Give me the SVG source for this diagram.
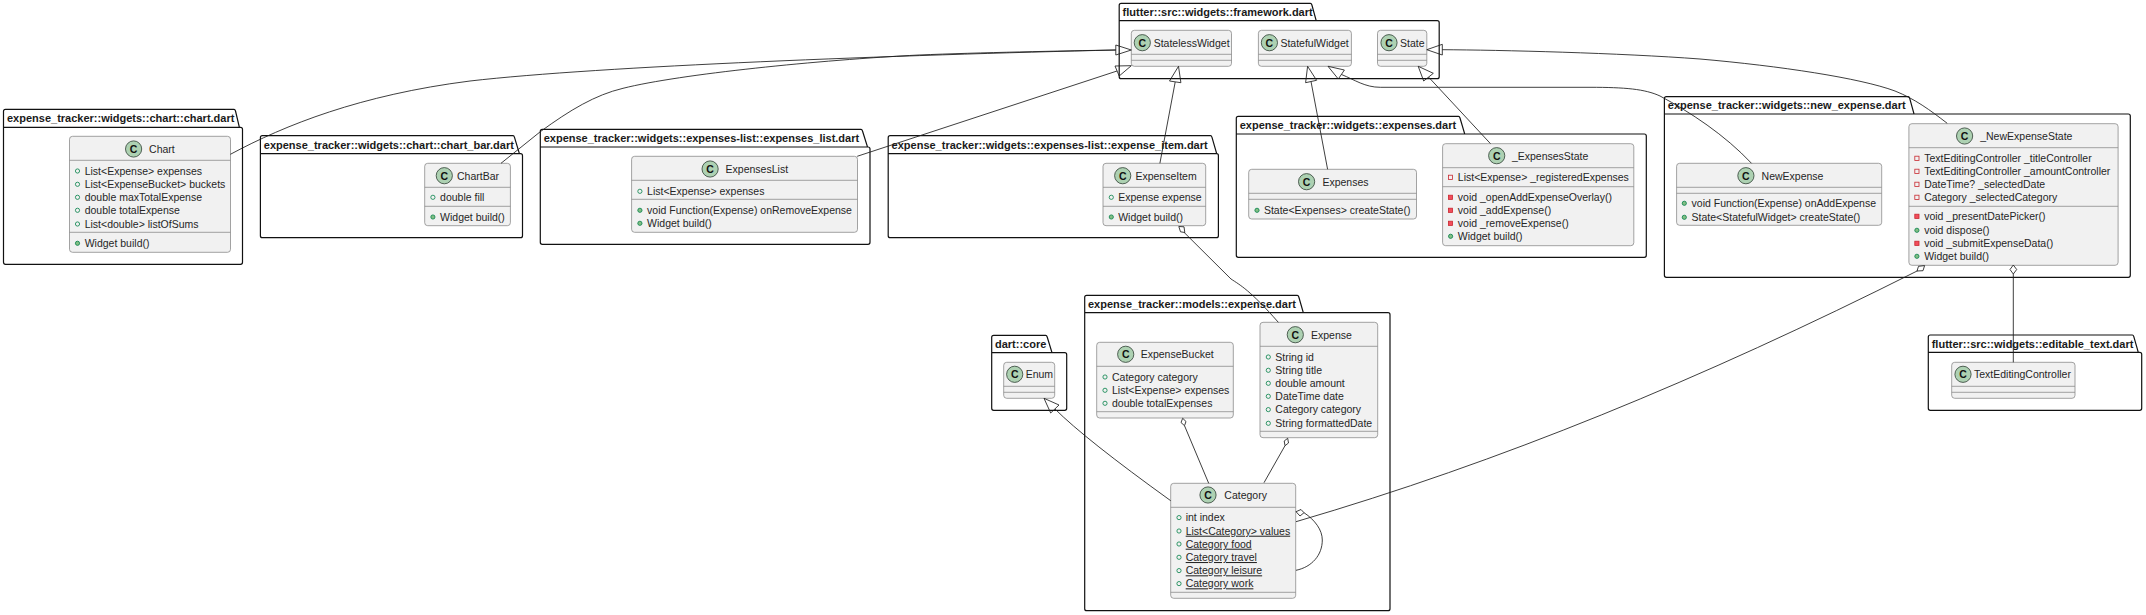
<svg xmlns="http://www.w3.org/2000/svg" width="2146" height="615" viewBox="0 0 2146 615">
<style>
text{font-family:"Liberation Sans",Arial,sans-serif;font-size:10.5px;fill:#262626}
.pt{font-weight:bold;font-size:11px;fill:#1a1a1a}
.pk{fill:#fff;stroke:#111;stroke-width:1.2}
.cl{fill:#f1f1f1;stroke:#8c8c8c;stroke-width:.8}
.sp{stroke:#8c8c8c;stroke-width:.8}
.ic{fill:#add1b2;stroke:#2f3f33;stroke-width:.8}
.ct{font-weight:bold;font-size:10.5px;fill:#111;text-anchor:middle}
.pf{fill:none;stroke:#038048;stroke-width:.8}
.pm{fill:#84be84;stroke:#038048;stroke-width:.8}
.xf{fill:none;stroke:#c82930;stroke-width:.8}
.xm{fill:#f24d5c;stroke:#c82930;stroke-width:.8}
.u{text-decoration:underline}
#connectors path,#connectors polygon{fill:none;stroke:#1c1c1c;stroke-width:.85}
</style>

<g id="pkg-chart"><path class="pk" d="M3.5 127.3V111.3Q3.5 109.3 5.5 109.3H234Q235 109.3 235.5 111L239.4 127.3H240.5Q242.5 127.3 242.5 129.3V262.3Q242.5 264.3 240.5 264.3H5.5Q3.5 264.3 3.5 262.3ZM3.5 127.3H239.4"/><text class="pt" x="7" y="122.2">expense_tracker::widgets::chart::chart.dart</text></g>
<g id="pkg-chart-bar"><path class="pk" d="M260.4 153.7V137.7Q260.4 135.7 262.4 135.7H513Q514 135.7 514.5 137.4L519.4 153.7H520.5Q522.5 153.7 522.5 155.7V235.7Q522.5 237.7 520.5 237.7H262.4Q260.4 237.7 260.4 235.7ZM260.4 153.7H519.4"/><text class="pt" x="263.8" y="148.7">expense_tracker::widgets::chart::chart_bar.dart</text></g>
<g id="pkg-expenses-list"><path class="pk" d="M540.3 147V131.3Q540.3 129.3 542.3 129.3H861Q862 129.3 862.5 131L867.5 147H868Q870 147 870 149V242.3Q870 244.3 868 244.3H542.3Q540.3 244.3 540.3 242.3ZM540.3 147H867.5"/><text class="pt" x="543.7" y="142">expense_tracker::widgets::expenses-list::expenses_list.dart</text></g>
<g id="pkg-expense-item"><path class="pk" d="M888.2 153.7V137.7Q888.2 135.7 890.2 135.7H1210.5Q1211.5 135.7 1212 137.4L1216.7 153.7Q1218.4 153.7 1218.4 155.7V235.7Q1218.4 237.7 1216.4 237.7H890.2Q888.2 237.7 888.2 235.7ZM888.2 153.7H1216.7"/><text class="pt" x="891.6" y="148.7">expense_tracker::widgets::expenses-list::expense_item.dart</text></g>
<g id="pkg-framework"><path class="pk" d="M1119.2 20.7V5.3Q1119.2 3.3 1121.2 3.3H1310.4Q1311.4 3.3 1311.9 5L1316.2 20.7H1437.2Q1439.2 20.7 1439.2 22.7V76.7Q1439.2 78.7 1437.2 78.7H1121.2Q1119.2 78.7 1119.2 76.7ZM1119.2 20.7H1316.2"/><text class="pt" x="1122.6" y="15.8">flutter::src::widgets::framework.dart</text></g>
<g id="pkg-expenses"><path class="pk" d="M1236.3 134V118.3Q1236.3 116.3 1238.3 116.3H1458.5Q1459.5 116.3 1460 118L1464.7 134H1644.3Q1646.3 134 1646.3 136V255.3Q1646.3 257.3 1644.3 257.3H1238.3Q1236.3 257.3 1236.3 255.3ZM1236.3 134H1464.7"/><text class="pt" x="1239.7" y="129">expense_tracker::widgets::expenses.dart</text></g>
<g id="pkg-new-expense"><path class="pk" d="M1664.4 114V98.7Q1664.4 96.7 1666.4 96.7H1908.2Q1909.2 96.7 1909.7 98.4L1914 114H2128.3Q2130.3 114 2130.3 116V275.3Q2130.3 277.3 2128.3 277.3H1666.4Q1664.4 277.3 1664.4 275.3ZM1664.4 114H1914"/><text class="pt" x="1667.8" y="109">expense_tracker::widgets::new_expense.dart</text></g>
<g id="pkg-models"><path class="pk" d="M1084.7 312.7V297.3Q1084.7 295.3 1086.7 295.3H1297.3Q1298.3 295.3 1298.8 297L1303.3 312.7H1388Q1390 312.7 1390 314.7V608.7Q1390 610.7 1388 610.7H1086.7Q1084.7 610.7 1084.7 608.7ZM1084.7 312.7H1303.3"/><text class="pt" x="1088" y="307.8">expense_tracker::models::expense.dart</text></g>
<g id="pkg-core"><path class="pk" d="M991.7 352.7V337.3Q991.7 335.3 993.7 335.3H1045.7Q1046.7 335.3 1047.2 337L1052 352.7H1064.7Q1066.7 352.7 1066.7 354.7V408.3Q1066.7 410.3 1064.7 410.3H993.7Q991.7 410.3 991.7 408.3ZM991.7 352.7H1052"/><text class="pt" x="995" y="347.8">dart::core</text></g>
<g id="pkg-editable-text"><path class="pk" d="M1928.3 352.3V337Q1928.3 335 1930.3 335H2132.3Q2133.3 335 2133.8 336.7L2138.3 352.3H2139.7Q2141.7 352.3 2141.7 354.3V408.3Q2141.7 410.3 2139.7 410.3H1930.3Q1928.3 410.3 1928.3 408.3ZM1928.3 352.3H2138.3"/><text class="pt" x="1931.7" y="347.5">flutter::src::widgets::editable_text.dart</text></g>

<g id="Chart"><rect class="cl" x="69.5" y="136.3" width="161" height="116" rx="3"/><path class="sp" d="M69.5 160.3H230.5M69.5 232.3H230.5"/><circle class="ic" cx="133.6" cy="149" r="8.1"/><text class="ct" x="133.6" y="152.8">C</text><text x="149.1" y="152.8">Chart</text>
<circle class="pf" cx="77.5" cy="171" r="2.1"/><text x="84.7" y="174.7">List&lt;Expense&gt; expenses</text>
<circle class="pf" cx="77.5" cy="184.3" r="2.1"/><text x="84.7" y="188">List&lt;ExpenseBucket&gt; buckets</text>
<circle class="pf" cx="77.5" cy="197.3" r="2.1"/><text x="84.7" y="201">double maxTotalExpense</text>
<circle class="pf" cx="77.5" cy="210.3" r="2.1"/><text x="84.7" y="214">double totalExpense</text>
<circle class="pf" cx="77.5" cy="224" r="2.1"/><text x="84.7" y="227.7">List&lt;double&gt; listOfSums</text>
<circle class="pm" cx="77.5" cy="243.3" r="2.1"/><text x="84.7" y="247">Widget build()</text></g>

<g id="ChartBar"><rect class="cl" x="424.7" y="163.3" width="85.7" height="62.4" rx="3"/><path class="sp" d="M424.7 187.3H510.4M424.7 206.3H510.4"/><circle class="ic" cx="444.3" cy="175.7" r="8.1"/><text class="ct" x="444.3" y="179.5">C</text><text x="457" y="179.5">ChartBar</text>
<circle class="pf" cx="432.9" cy="197.3" r="2.1"/><text x="440.1" y="201">double fill</text>
<circle class="pm" cx="432.9" cy="217" r="2.1"/><text x="440.1" y="220.7">Widget build()</text></g>

<g id="ExpensesList"><rect class="cl" x="631.6" y="156.3" width="225.9" height="76" rx="3"/><path class="sp" d="M631.6 180.3H857.5M631.6 199.3H857.5"/><circle class="ic" cx="710.1" cy="169" r="8.1"/><text class="ct" x="710.1" y="172.8">C</text><text x="725.6" y="172.8">ExpensesList</text>
<circle class="pf" cx="639.9" cy="191.3" r="2.1"/><text x="647.1" y="195">List&lt;Expense&gt; expenses</text>
<circle class="pm" cx="639.9" cy="210.3" r="2.1"/><text x="647.1" y="214">void Function(Expense) onRemoveExpense</text>
<circle class="pm" cx="639.9" cy="223.3" r="2.1"/><text x="647.1" y="227">Widget build()</text></g>

<g id="ExpenseItem"><rect class="cl" x="1103" y="163.3" width="102.7" height="62.4" rx="3"/><path class="sp" d="M1103 187.3H1205.7M1103 206.3H1205.7"/><circle class="ic" cx="1122.7" cy="175.7" r="8.1"/><text class="ct" x="1122.7" y="179.5">C</text><text x="1135.4" y="179.5">ExpenseItem</text>
<circle class="pf" cx="1111.3" cy="197.3" r="2.1"/><text x="1118.2" y="201">Expense expense</text>
<circle class="pm" cx="1111.3" cy="217" r="2.1"/><text x="1118.2" y="220.7">Widget build()</text></g>

<g id="StatelessWidget"><rect class="cl" x="1131.3" y="30.3" width="100.2" height="36" rx="3"/><path class="sp" d="M1131.3 54.3H1231.5M1131.3 60.3H1231.5"/><circle class="ic" cx="1142.3" cy="42.7" r="8.1"/><text class="ct" x="1142.3" y="46.5">C</text><text x="1153.7" y="46.5">StatelessWidget</text></g>
<g id="StatefulWidget"><rect class="cl" x="1258.4" y="30.3" width="93" height="36" rx="3"/><path class="sp" d="M1258.4 54.3H1351.4M1258.4 60.3H1351.4"/><circle class="ic" cx="1269.4" cy="42.7" r="8.1"/><text class="ct" x="1269.4" y="46.5">C</text><text x="1280.4" y="46.5">StatefulWidget</text></g>
<g id="State"><rect class="cl" x="1377.5" y="30.3" width="49.3" height="36" rx="3"/><path class="sp" d="M1377.5 54.3H1426.8M1377.5 60.3H1426.8"/><circle class="ic" cx="1389" cy="42.7" r="8.1"/><text class="ct" x="1389" y="46.5">C</text><text x="1400" y="46.5">State</text></g>

<g id="Expenses"><rect class="cl" x="1248.7" y="169.3" width="167.8" height="49.7" rx="3"/><path class="sp" d="M1248.7 193.3H1416.5M1248.7 199.3H1416.5"/><circle class="ic" cx="1306.6" cy="181.7" r="8.1"/><text class="ct" x="1306.6" y="185.5">C</text><text x="1322.4" y="185.5">Expenses</text>
<circle class="pm" cx="1257" cy="210.3" r="2.1"/><text x="1263.9" y="214">State&lt;Expenses&gt; createState()</text></g>

<g id="ExpensesState"><rect class="cl" x="1442.6" y="143.7" width="191.2" height="102" rx="3"/><path class="sp" d="M1442.6 167.7H1633.8M1442.6 186.7H1633.8"/><circle class="ic" cx="1496.7" cy="155.7" r="8.1"/><text class="ct" x="1496.7" y="159.5">C</text><text x="1511.9" y="159.5">_ExpensesState</text>
<rect class="xf" x="1448.4" y="175.2" width="4.2" height="4.2"/><text x="1457.8" y="181">List&lt;Expense&gt; _registeredExpenses</text>
<rect class="xm" x="1448.4" y="195.2" width="4.2" height="4.2"/><text x="1457.8" y="201">void _openAddExpenseOverlay()</text>
<rect class="xm" x="1448.4" y="208.2" width="4.2" height="4.2"/><text x="1457.8" y="214">void _addExpense()</text>
<rect class="xm" x="1448.4" y="221.2" width="4.2" height="4.2"/><text x="1457.8" y="227">void _removeExpense()</text>
<circle class="pm" cx="1450.6" cy="236.3" r="2.1"/><text x="1457.8" y="240">Widget build()</text></g>

<g id="NewExpense"><rect class="cl" x="1676.6" y="163.3" width="205.1" height="62" rx="3"/><path class="sp" d="M1676.6 187.3H1881.7M1676.6 193.3H1881.7"/><circle class="ic" cx="1745.9" cy="175.7" r="8.1"/><text class="ct" x="1745.9" y="179.5">C</text><text x="1761.6" y="179.5">NewExpense</text>
<circle class="pm" cx="1684.3" cy="203.3" r="2.1"/><text x="1691.6" y="207">void Function(Expense) onAddExpense</text>
<circle class="pm" cx="1684.3" cy="217.3" r="2.1"/><text x="1691.6" y="221">State&lt;StatefulWidget&gt; createState()</text></g>

<g id="NewExpenseState"><rect class="cl" x="1908.9" y="123.7" width="209.2" height="141.6" rx="3"/><path class="sp" d="M1908.9 147.7H2118.1M1908.9 206.3H2118.1"/><circle class="ic" cx="1964.6" cy="136" r="8.1"/><text class="ct" x="1964.6" y="139.8">C</text><text x="1980.2" y="139.8">_NewExpenseState</text>
<rect class="xf" x="1914.8" y="156.2" width="4.2" height="4.2"/><text x="1924.2" y="162">TextEditingController _titleController</text>
<rect class="xf" x="1914.8" y="169.2" width="4.2" height="4.2"/><text x="1924.2" y="175">TextEditingController _amountController</text>
<rect class="xf" x="1914.8" y="182.2" width="4.2" height="4.2"/><text x="1924.2" y="188">DateTime? _selectedDate</text>
<rect class="xf" x="1914.8" y="195.2" width="4.2" height="4.2"/><text x="1924.2" y="201">Category _selectedCategory</text>
<rect class="xm" x="1914.8" y="214.2" width="4.2" height="4.2"/><text x="1924.2" y="220">void _presentDatePicker()</text>
<circle class="pm" cx="1916.9" cy="230.3" r="2.1"/><text x="1924.2" y="234">void dispose()</text>
<rect class="xm" x="1914.8" y="241.2" width="4.2" height="4.2"/><text x="1924.2" y="247">void _submitExpenseData()</text>
<circle class="pm" cx="1916.9" cy="256.3" r="2.1"/><text x="1924.2" y="260">Widget build()</text></g>

<g id="Expense"><rect class="cl" x="1260" y="322.3" width="117.7" height="115.4" rx="3"/><path class="sp" d="M1260 346.3H1377.7M1260 431.3H1377.7"/><circle class="ic" cx="1295.3" cy="334.7" r="8.1"/><text class="ct" x="1295.3" y="338.5">C</text><text x="1311" y="338.5">Expense</text>
<circle class="pf" cx="1268.3" cy="357" r="2.1"/><text x="1275.3" y="360.7">String id</text>
<circle class="pf" cx="1268.3" cy="370.3" r="2.1"/><text x="1275.3" y="374">String title</text>
<circle class="pf" cx="1268.3" cy="383.3" r="2.1"/><text x="1275.3" y="387">double amount</text>
<circle class="pf" cx="1268.3" cy="396.3" r="2.1"/><text x="1275.3" y="400">DateTime date</text>
<circle class="pf" cx="1268.3" cy="409.6" r="2.1"/><text x="1275.3" y="413.3">Category category</text>
<circle class="pf" cx="1268.3" cy="423.3" r="2.1"/><text x="1275.3" y="427">String formattedDate</text></g>

<g id="ExpenseBucket"><rect class="cl" x="1096.7" y="342.3" width="136.6" height="75.7" rx="3"/><path class="sp" d="M1096.7 366.3H1233.3M1096.7 411.7H1233.3"/><circle class="ic" cx="1125.7" cy="354.3" r="8.1"/><text class="ct" x="1125.7" y="358.1">C</text><text x="1140.7" y="358.1">ExpenseBucket</text>
<circle class="pf" cx="1105" cy="377" r="2.1"/><text x="1112" y="380.7">Category category</text>
<circle class="pf" cx="1105" cy="390.3" r="2.1"/><text x="1112" y="394">List&lt;Expense&gt; expenses</text>
<circle class="pf" cx="1105" cy="403.3" r="2.1"/><text x="1112" y="407">double totalExpenses</text></g>

<g id="Category"><rect class="cl" x="1170.7" y="483.3" width="125" height="115" rx="3"/><path class="sp" d="M1170.7 507.3H1295.7M1170.7 592.3H1295.7"/><circle class="ic" cx="1208" cy="495" r="8.1"/><text class="ct" x="1208" y="498.8">C</text><text x="1224.3" y="498.8">Category</text>
<circle class="pf" cx="1179" cy="517.6" r="2.1"/><text x="1185.7" y="521.3">int index</text>
<circle class="pf" cx="1179" cy="531" r="2.1"/><text class="u" x="1185.7" y="534.7">List&lt;Category&gt; values</text>
<circle class="pf" cx="1179" cy="544" r="2.1"/><text class="u" x="1185.7" y="547.7">Category food</text>
<circle class="pf" cx="1179" cy="557.3" r="2.1"/><text class="u" x="1185.7" y="561">Category travel</text>
<circle class="pf" cx="1179" cy="570.6" r="2.1"/><text class="u" x="1185.7" y="574.3">Category leisure</text>
<circle class="pf" cx="1179" cy="583.6" r="2.1"/><text class="u" x="1185.7" y="587.3">Category work</text></g>

<g id="Enum"><rect class="cl" x="1003.7" y="362.3" width="51" height="36" rx="3"/><path class="sp" d="M1003.7 386.3H1054.7M1003.7 392.3H1054.7"/><circle class="ic" cx="1014.7" cy="374.3" r="8.1"/><text class="ct" x="1014.7" y="378.1">C</text><text x="1025.7" y="378.1">Enum</text></g>

<g id="TextEditingController"><rect class="cl" x="1951.7" y="362.3" width="123.3" height="36" rx="3"/><path class="sp" d="M1951.7 386.3H2075M1951.7 392.3H2075"/><circle class="ic" cx="1963" cy="374.3" r="8.1"/><text class="ct" x="1963" y="378.1">C</text><text x="1974" y="378.1">TextEditingController</text></g>

<g id="connectors">
<path d="M230.4 154.3C285 125 360 95 470 81C600 66 900 55 1115.8 50"/>
<polygon points="1131.3,50 1115.8,45 1115.8,55"/>
<path d="M501 163.3L540.3 131.7C570 110 595 95 623 88.3C680 74 820 60 919 55C980 52.5 1060 51 1115.8 50"/>
<path d="M857.2 156.3L1117 71"/>
<polygon points="1131.3,65.7 1115,66 1119.2,76"/>
<path d="M1159.9 163.3L1175.2 82"/>
<polygon points="1178.5,66.3 1169.5,81 1180.9,82.7"/>
<path d="M1327.6 169.3L1311 81.5"/>
<polygon points="1307.6,66.3 1305.6,82.7 1316.6,80.3"/>
<path d="M1490.5 143.7L1428.5 77"/>
<polygon points="1418.2,66.3 1423.7,81 1433.3,73.3"/>
<path d="M1751.5 163.3C1725 135 1690 112 1660 96C1645 89 1625 87.3 1590 87.3L1380.3 87.3C1365 87.3 1355 80 1341.5 74.5"/>
<polygon points="1328,66.3 1338.3,79 1344.4,70"/>
<path d="M1947.2 123.3C1930 110 1915 99 1895 91C1860 78 1780 66 1700 59C1620 53 1500 50 1442.3 49.7"/>
<polygon points="1426.8,49.7 1442.3,44.3 1442.3,55"/>
<path d="M1184 232.3L1231 279C1240 285 1250 290 1278.3 322.3"/>
<polygon points="1178.8,226.5 1184,226.8 1184.8,232.5 1180.5,231.8"/>
<path d="M1184.5 425.7L1208.7 483.3"/>
<polygon points="1182.7,418.3 1186,421.5 1184.5,425.7 1181,422.5"/>
<path d="M1285 445.7L1264 482.7"/>
<polygon points="1287.7,438.3 1288.5,443 1285,445.7 1284.2,441"/>
<path d="M1055 409Q1085 439 1170.7 500.7"/>
<polygon points="1044,398.3 1059,405 1050.7,413"/>
<path d="M1304 512.7C1315 520 1322.3 530 1322.3 540C1322.3 555 1312 567 1296 570.3"/>
<polygon points="1296,511.7 1301,509.5 1304,512.7 1300,516"/>
<path d="M1296 521.7C1500 462 1700 380 1917.5 270.8"/>
<polygon points="1924.6,265.6 1918.5,266.3 1917,271 1923,270.7"/>
<path d="M2013.3 274L2013.3 362.3"/>
<polygon points="2013.3,265 2016.7,269.5 2013.3,274 2010,269.5"/>
</g>
</svg>
